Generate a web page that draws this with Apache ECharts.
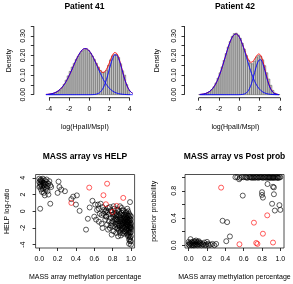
<!DOCTYPE html>
<html><head><meta charset="utf-8">
<script src="https://cdn.jsdelivr.net/npm/echarts@6/dist/echarts.min.js"></script>
<style>html,body{margin:0;padding:0;background:#fff}#c{width:293px;height:284px}</style>
</head><body><div id="c"></div>
<script>
// ---------- DATA ----------
const histBreaks = [-4.0,-3.8,-3.6,-3.4,-3.2,-3.0,-2.8,-2.6,-2.4,-2.2,-2.0,-1.8,-1.6,-1.4,-1.2,-1.0,-0.8,-0.6,-0.4,-0.2,0.0,0.2,0.4,0.6,0.8,1.0,1.2,1.4,1.6,1.8,2.0,2.2,2.4,2.6,2.8,3.0,3.2,3.4,3.6,3.8,4.0];
const histDensity41 = [0.002,0.004,0.006,0.011,0.017,0.025,0.036,0.053,0.074,0.096,0.119,0.141,0.160,0.180,0.196,0.210,0.222,0.229,0.231,0.226,0.213,0.197,0.180,0.160,0.141,0.124,0.114,0.113,0.124,0.150,0.178,0.198,0.206,0.204,0.190,0.158,0.122,0.100,0.052,0.022];
const histDensity42 = [0.001,0.002,0.003,0.006,0.010,0.016,0.026,0.040,0.060,0.085,0.112,0.142,0.176,0.210,0.244,0.272,0.298,0.312,0.314,0.305,0.288,0.262,0.232,0.200,0.176,0.160,0.158,0.172,0.192,0.200,0.196,0.178,0.148,0.112,0.080,0.048,0.022,0.008,0.003,0.001];

const curveX41 = [-4.3,-4.1,-3.9,-3.7,-3.5,-3.3,-3.1,-2.9,-2.7,-2.5,-2.3,-2.1,-1.9,-1.7,-1.5,-1.3,-1.1,-0.9,-0.7,-0.5,-0.3,-0.1,0.1,0.3,0.5,0.7,0.9,1.1,1.3,1.5,1.7,1.9,2.1,2.3,2.5,2.7,2.9,3.1,3.3,3.5,3.7,3.9,4.1,4.3];
const mixture41 = [0.0012,0.0020,0.0034,0.0054,0.0084,0.0127,0.0188,0.0269,0.0376,0.051,0.0674,0.0865,0.108,0.131,0.155,0.178,0.199,0.216,0.229,0.235,0.235,0.229,0.216,0.199,0.179,0.158,0.138,0.122,0.114,0.116,0.130,0.152,0.179,0.203,0.215,0.211,0.190,0.156,0.117,0.080,0.050,0.028,0.0145,0.0068];
const compA41 = [0.0012,0.0020,0.0034,0.0054,0.0084,0.0127,0.0188,0.0269,0.0376,0.051,0.0674,0.0865,0.108,0.131,0.155,0.178,0.199,0.216,0.229,0.235,0.235,0.229,0.216,0.199,0.178,0.155,0.131,0.108,0.0865,0.0674,0.051,0.0376,0.0269,0.0188,0.0127,0.0084,0.0054,0.0034,0.0021,0.0012,0.0007,0.0004,0.0002,0.0001];
const compB41 = [0,0,0,0,0,0,0,0,0,0,0,0,0,0,0,0,0,0,0,0,0,0,0.0001,0.0004,0.0011,0.0029,0.0067,0.0143,0.0277,0.049,0.0786,0.1148,0.1525,0.1843,0.2026,0.2026,0.1843,0.1525,0.1148,0.0786,0.049,0.0277,0.0143,0.0067];

const curveX42 = [-3.9,-3.7,-3.5,-3.3,-3.1,-2.9,-2.7,-2.5,-2.3,-2.1,-1.9,-1.7,-1.5,-1.3,-1.1,-0.9,-0.7,-0.5,-0.3,-0.1,0.1,0.3,0.5,0.7,0.9,1.1,1.3,1.5,1.7,1.9,2.1,2.3,2.5,2.7,2.9,3.1,3.3,3.5,3.7,3.9];
const mixture42 = [0.0012,0.0022,0.0039,0.0067,0.0111,0.0177,0.0273,0.0405,0.0581,0.0805,0.1077,0.139,0.173,0.208,0.242,0.271,0.294,0.307,0.310,0.302,0.284,0.258,0.230,0.201,0.178,0.166,0.168,0.182,0.199,0.208,0.201,0.174,0.134,0.091,0.0545,0.0287,0.0134,0.0055,0.0020,0.0007];
const compA42 = [0.0012,0.0022,0.0039,0.0067,0.0111,0.0177,0.0273,0.0405,0.0581,0.0805,0.1077,0.139,0.173,0.208,0.242,0.271,0.294,0.307,0.310,0.302,0.284,0.257,0.226,0.191,0.156,0.123,0.0936,0.0688,0.0487,0.0334,0.0221,0.0141,0.0087,0.0052,0.003,0.0016,0.0009,0.0005,0.0002,0.0001];
const compB42 = [0,0,0,0,0,0,0,0,0,0,0,0,0,0,0,0,0,0,0,0,0.0004,0.0013,0.0038,0.0097,0.0218,0.0431,0.0746,0.1131,0.1504,0.175,0.1785,0.1596,0.1249,0.0857,0.0515,0.0271,0.0125,0.0051,0.0018,0.0006];

// MASS array methylation vs HELP log-ratio
const helpBlack = [
[0.00,3.9],[0.01,3.7],[0.02,3.8],[0.00,3.5],[0.03,3.6],[0.01,3.3],[0.04,3.9],[0.02,3.2],[0.05,3.4],[0.03,3.0],[0.06,3.7],[0.00,2.9],[0.04,2.7],[0.07,3.2],[0.05,3.1],[0.08,3.5],[0.02,2.6],[0.06,2.9],[0.09,3.0],[0.10,3.3],[0.03,2.3],[0.07,2.6],[0.11,3.6],[0.08,2.8],[0.05,2.2],[0.12,3.1],[0.09,2.4],[0.04,3.4],[0.06,3.3],[0.01,3.0],[0.10,2.0],[0.06,1.9],[0.13,2.9],[0.02,3.6],[0.08,3.8],[0.01,0.3],[0.12,0.9],
[0.21,3.55],[0.20,2.2],[0.22,2.9],[0.24,2.6],[0.28,2.4],[0.35,1.45],[0.37,1.75],[0.41,1.9],[0.40,0.8],[0.44,0.05],[0.51,-2.2],[0.53,-0.9],[0.55,0.45],
[0.58,1.25],[0.61,0.8],[0.63,0.15],[0.60,-0.65],[0.65,-1.25],[0.69,0.5],[0.68,-0.45],[0.72,-0.05],[0.73,-0.65],[0.62,-1.0],[0.64,0.8],[0.66,-0.3],[0.68,-1.5],[0.67,0.9],[0.69,-2.0],[0.65,0.3],
[0.70,-0.3],[0.72,-1.0],[0.71,0.2],[0.74,-1.6],[0.73,-0.6],[0.75,0.4],[0.76,-1.2],[0.74,-0.1],
[0.77,-2.0],[0.78,-0.8],[0.79,-1.4],[0.80,-0.4],[0.81,-2.4],[0.78,0.1],[0.80,-1.8],[0.82,-1.1],[0.79,-2.8],[0.82,0.3],[0.81,-0.7],
[0.83,-1.5],[0.84,-0.2],[0.85,-2.1],[0.83,-0.9],[0.86,-1.2],[0.84,-2.6],[0.87,-0.5],[0.85,-1.7],[0.86,0.2],[0.88,-1.9],[0.87,-2.3],[0.88,-0.8],[0.84,-1.3],[0.86,-3.0],[0.88,0.6],[0.85,-0.4],
[0.89,-1.0],[0.90,-1.6],[0.91,-0.6],[0.89,-2.2],[0.92,-1.3],[0.90,-0.2],[0.93,-2.0],[0.91,-2.6],[0.92,-0.9],[0.94,-1.5],[0.90,-1.2],[0.93,-0.4],[0.91,-1.8],[0.94,-2.4],[0.92,0.1],[0.89,-2.9],[0.93,-1.1],[0.94,-0.7],[0.90,0.4],[0.92,-1.9],[0.91,-1.4],
[0.95,-1.3],[0.96,-0.8],[0.97,-1.8],[0.95,-2.2],[0.98,-1.1],[0.96,-1.6],[0.99,-2.0],[0.97,-0.5],[0.95,-0.1],[0.98,-2.5],[1.00,-1.4],[0.96,-2.8],[0.99,-0.9],[0.97,-1.3],[1.00,-2.2],[0.98,-0.3],[0.95,-1.7],[0.99,-1.6],[0.96,0.3],[1.00,-0.6],[0.97,-2.3],[0.98,-1.9],[1.00,-1.9],[0.99,-2.6],[0.95,-2.6],[0.96,-1.1],[0.97,-3.0],[0.98,-2.9],[0.99,-3.3],[1.00,-3.6],[0.98,-3.9],[1.00,-4.0],[0.99,-3.1],[0.99,1.1],[1.00,-2.0],[0.97,0.0],
[0.82,-0.3],[0.83,-1.9],[0.84,-0.6],[0.85,-1.0],[0.86,-1.5],[0.87,-0.1],[0.87,-1.7],[0.88,-1.2],[0.88,-2.6],[0.89,-0.4],[0.89,-1.5],[0.90,-2.0],[0.90,-0.8],[0.91,-1.0],[0.91,-2.2],[0.91,0.1],[0.92,-1.6],[0.92,-2.7],[0.92,-0.5],[0.93,-1.4],[0.93,-0.8],[0.93,-2.4],[0.94,-1.2],[0.94,-0.2],[0.94,-1.9],[0.95,-0.9],[0.95,-1.5],[0.95,-0.5],[0.96,-1.3],[0.96,-2.1],[0.96,-0.4],[0.97,-1.0],[0.97,-1.6],[0.97,-2.6],[0.98,-0.7],[0.98,-1.4],[0.98,-2.2],[0.99,-1.2],[0.99,-1.8],[0.99,-0.5],[1.00,-1.0],[1.00,-1.6],[1.00,-2.5],[1.00,-3.0],[0.99,-3.6],[0.98,-3.4],[0.86,-2.0],[0.84,-1.0],[0.83,-0.5],[0.80,-1.2],[0.78,-1.7],[0.76,-0.4],[0.77,0.5],[0.75,-2.2],[0.73,0.1],[0.81,0.6],[0.79,-0.1],[0.85,0.1]
];
const helpRed = [[0.35,1.0],[0.545,2.83],[0.74,3.3],[0.70,1.92],[0.727,0.84],[0.844,0.64],[0.80,-0.08],[0.916,1.6]];

// MASS array methylation vs posterior probability
const postBlack = [
[0.00,0.01],[0.01,0.00],[0.02,0.02],[0.03,0.00],[0.04,0.01],[0.05,0.03],[0.06,0.00],[0.07,0.02],[0.08,0.01],[0.09,0.04],[0.10,0.00],[0.11,0.02],[0.12,0.01],[0.02,0.09],[0.04,0.05],[0.06,0.06],[0.08,0.07],[0.10,0.05],[0.13,0.03],[0.14,0.00],[0.15,0.02],[0.16,0.01],[0.18,0.00],[0.20,0.05],[0.21,0.02],[0.22,0.00],[0.24,0.01],[0.26,0.02],[0.28,0.00],[0.30,0.02],[0.01,0.03],[0.03,0.04],[0.05,0.00],[0.07,0.05],[0.09,0.01],[0.11,0.06],[0.17,0.04],[0.19,0.01],[0.12,0.04],[0.00,0.05],
[0.37,0.36],[0.42,0.34],[0.41,0.06],[0.45,0.13],[0.51,1.0],[0.53,1.0],[0.55,0.97],[0.56,0.99],[0.59,0.73],
[0.58,1.0],[0.60,1.0],[0.62,1.0],[0.63,1.0],[0.64,0.99],[0.66,1.0],[0.67,1.0],[0.68,1.0],[0.69,0.99],[0.70,1.0],[0.71,1.0],[0.72,0.99],[0.73,1.0],[0.74,1.0],[0.75,1.0],[0.76,0.99],[0.77,1.0],[0.78,1.0],[0.79,1.0],[0.80,1.0],[0.81,0.99],[0.82,1.0],[0.83,1.0],[0.84,1.0],[0.85,0.99],[0.86,1.0],[0.87,1.0],[0.88,1.0],[0.88,0.99],[0.89,1.0],[0.90,0.99],[0.91,1.0],[0.92,1.0],[0.92,0.99],[0.93,1.0],[0.94,0.99],[0.95,1.0],[0.96,1.0],[0.97,1.0],[0.97,0.99],[0.98,0.99],[0.99,1.0],[1.00,1.0],
[0.80,0.78],[0.80,0.74],[0.81,0.70],[0.86,0.90],[0.92,0.86],[0.93,0.85],[0.93,0.75],[0.91,0.61],[0.94,0.51],[0.99,0.59],[1.00,0.52]
];
const postRed = [[0.354,0.847],[0.712,0.332],[0.857,0.44],[0.81,0.17],[0.554,0.015],[0.737,0.034],[0.75,0.02],[0.92,0.04]];

// ticks
const histXTicks = [-4,-2,0,2,4];
const histYTicks = [0,0.05,0.1,0.15,0.2,0.25,0.3,0.35];
const histYLabels = [0,0.1,0.2,0.3];
const methTicks = [0,0.2,0.4,0.6,0.8,1.0];
const helpYTicks = [-4,-2,0,2,4];
const postYTicks = [0,0.2,0.4,0.6,0.8,1.0];
const postYLabels = [0,0.4,0.8];

// ---------- CHART ----------
const FONT = 'Liberation Sans';
const chart = echarts.init(document.getElementById('c'), null, {renderer:'canvas'});
const HIST_YMIN = -0.0153, HIST_YMAX = 0.364;
const txt = {fontSize:7, color:'#000', fontFamily:FONT};
const tickStyle = {color:'#000', width:0.8};

function histData(d){ return d.map((h,i)=>[histBreaks[i], histBreaks[i+1], h]); }
function pairs(xs, ys){ return xs.map((x,i)=>[x, ys[i]]); }

function histX(gi, min, max){
  return {gridIndex:gi, type:'value', min:min, max:max,
    axisLine:{show:false, onZero:false}, splitLine:{show:false},
    axisTick:{show:true, customValues:histXTicks, length:3, lineStyle:tickStyle},
    axisLabel:{customValues:histXTicks, margin:8, ...txt},
    name:'log(HpaII/MspI)', nameLocation:'middle', nameGap:26, nameTextStyle:txt};
}
function histY(gi, gap){
  return {gridIndex:gi, type:'value', min:HIST_YMIN, max:HIST_YMAX,
    axisLine:{show:false, onZero:false}, splitLine:{show:false},
    axisTick:{show:true, customValues:histYTicks, length:3, lineStyle:tickStyle},
    axisLabel:{customValues:histYLabels, rotate:90, margin:7, formatter:v=>v.toFixed(2), ...txt},
    name:'Density', nameLocation:'middle', nameGap:gap, nameTextStyle:txt};
}
function methX(gi){
  return {gridIndex:gi, type:'value', min:-0.04, max:1.04,
    axisLine:{show:false, onZero:false}, splitLine:{show:false},
    axisTick:{show:true, customValues:methTicks, length:3, lineStyle:tickStyle},
    axisLabel:{customValues:methTicks, margin:8, formatter:v=>v.toFixed(1), ...txt},
    name:'MASS array methylation percentage', nameLocation:'middle', nameGap:26, nameTextStyle:txt};
}

const histRender = function(params, api){
  const p0 = api.coord([api.value(0), 0]);
  const p1 = api.coord([api.value(1), api.value(2)]);
  return {type:'rect', shape:{x:p0[0], y:p1[1], width:p1[0]-p0[0], height:p0[1]-p1[1]},
    style:{fill:'#c4c4c4', stroke:'#555', lineWidth:0.5}};
};
function lineS(xi, data, color){
  return {type:'line', xAxisIndex:xi, yAxisIndex:xi, data:data, smooth:0.3, symbol:'none',
    lineStyle:{color:color, width:0.9}, silent:true, animation:false};
}
function scat(xi, data, color){
  return {type:'scatter', xAxisIndex:xi, yAxisIndex:xi, data:data, symbol:'circle', symbolSize:5,
    itemStyle:{color:'rgba(0,0,0,0)', borderColor:color, borderWidth:0.8}, silent:true, animation:false};
}

const titleStyle = {fontSize:8.5, fontWeight:'bold', color:'#000', fontFamily:FONT};
const option = {
  animation:false,
  backgroundColor:'#fff',
  title:[
    {text:'Patient 41', left:84.5, top:2, textAlign:'center', textStyle:titleStyle, padding:0},
    {text:'Patient 42', left:235, top:2, textAlign:'center', textStyle:titleStyle, padding:0},
    {text:'MASS array vs HELP', left:85, top:152, textAlign:'center', textStyle:titleStyle, padding:0},
    {text:'MASS array vs Post prob', left:234.5, top:152, textAlign:'center', textStyle:titleStyle, padding:0}
  ],
  grid:[
    {left:33.8, top:23.4, width:102, height:74.3},
    {left:184.5, top:23.4, width:101.6, height:74.3},
    {left:35.6, top:174.5, width:99, height:73.5, show:true, borderColor:'#222', borderWidth:0.8},
    {left:185, top:174.5, width:99, height:73.5, show:true, borderColor:'#222', borderWidth:0.8}
  ],
  xAxis:[ histX(0,-5.5,4.6), histX(1,-5.4,4.6), methX(2), methX(3) ],
  yAxis:[ histY(0, 21), histY(1, 24),
    {gridIndex:2, type:'value', min:-4.4, max:4.4, axisLine:{show:false, onZero:false}, splitLine:{show:false},
     axisTick:{show:true, customValues:helpYTicks, length:3, lineStyle:tickStyle},
     axisLabel:{customValues:helpYTicks, rotate:90, margin:9, ...txt},
     name:'HELP log-ratio', nameLocation:'middle', nameGap:25, nameTextStyle:txt},
    {gridIndex:3, type:'value', min:-0.04, max:1.04, axisLine:{show:false, onZero:false}, splitLine:{show:false},
     axisTick:{show:true, customValues:postYTicks, length:3, lineStyle:tickStyle},
     axisLabel:{customValues:postYLabels, rotate:90, margin:7, formatter:v=>v.toFixed(1), ...txt},
     name:'posterior probability', nameLocation:'middle', nameGap:27, nameTextStyle:txt}
  ],
  series:[
    {type:'custom', xAxisIndex:0, yAxisIndex:0, data:histData(histDensity41), renderItem:histRender, encode:{x:[0,1], y:2}, silent:true},
    lineS(0, pairs(curveX41, mixture41), '#ff0000'),
    lineS(0, pairs(curveX41, compA41), '#0000ff'),
    lineS(0, pairs(curveX41, compB41), '#0000ff'),
    {type:'custom', xAxisIndex:1, yAxisIndex:1, data:histData(histDensity42), renderItem:histRender, encode:{x:[0,1], y:2}, silent:true},
    lineS(1, pairs(curveX42, mixture42), '#ff0000'),
    lineS(1, pairs(curveX42, compA42), '#0000ff'),
    lineS(1, pairs(curveX42, compB42), '#0000ff'),
    scat(2, helpBlack, '#000'),
    scat(2, helpRed, '#ff0000'),
    scat(3, postBlack, '#000'),
    scat(3, postRed, '#ff0000')
  ]
};
chart.setOption(option);

// R-style axis lines spanning first to last tick (positions via the chart's own scales)
function seg(gi, a, b){
  const p = chart.convertToPixel({gridIndex:gi}, a);
  const q = chart.convertToPixel({gridIndex:gi}, b);
  return {type:'line', shape:{x1:p[0], y1:p[1], x2:q[0], y2:q[1]}, style:{stroke:'#000', lineWidth:0.8}, silent:true};
}
const xMins = [-5.5, -5.4];
const g = [];
[0,1].forEach(gi=>{
  g.push(seg(gi, [histXTicks[0], HIST_YMIN], [histXTicks[histXTicks.length-1], HIST_YMIN]));
  g.push(seg(gi, [xMins[gi], histYTicks[0]], [xMins[gi], histYTicks[histYTicks.length-1]]));
});
chart.setOption({graphic:g});
</script></body></html>
